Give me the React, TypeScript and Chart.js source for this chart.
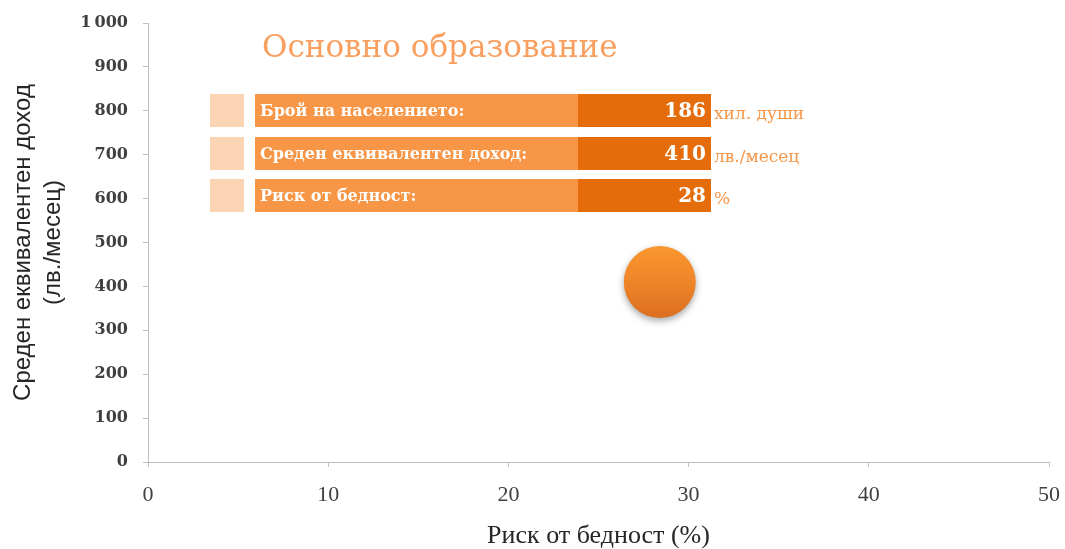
import React, { useEffect, useRef } from 'react';
import { Chart, registerables } from 'chart.js';

Chart.register(...registerables);

// ---- data ----
const riskValues = [28.4];
const incomeValues = [410];
const xTickMin = 0;
const xTickMax = 50;
const xTickStep = 10;
const yTickMin = 0;
const yTickMax = 1000;
const yTickStep = 100;
const chartTitle = 'Основно образование';
const xAxisTitle = 'Риск от бедност (%)';
const yAxisTitle = ['Среден еквивалентен доход', '(лв./месец)'];
const panelLabels = ['Брой на населението:', 'Среден еквивалентен доход:', 'Риск от бедност:'];
const panelValues = ['186', '410', '28'];
const panelUnits = ['хил. души', 'лв./месец', '%'];

const ORANGE_LIGHT = '#F79646';
const ORANGE_DARK = '#E46C0A';
const PEACH = '#FBD4B4';
const AXIS = '#BFBFBF';
const TEXT = '#404040';

const overlayPlugin = {
  id: 'overlay',
  afterDatasetsDraw(chart: any) {
    const { ctx, chartArea } = chart;
    const L = chartArea.left;
    const T = chartArea.top;
    ctx.save();
    // title
    ctx.fillStyle = '#F9A060';
    ctx.font = '31px "DejaVu Serif"';
    ctx.textAlign = 'left';
    ctx.textBaseline = 'middle';
    ctx.fillText(chartTitle, L + 114, T + 26);

    const rowTops = [71, 114, 156];
    const rowH = 33;
    panelLabels.forEach((label, i) => {
      const y = T + rowTops[i];
      ctx.fillStyle = PEACH;
      ctx.fillRect(L + 62, y, 34, rowH);
      ctx.fillStyle = ORANGE_LIGHT;
      ctx.fillRect(L + 107, y, 323, rowH);
      ctx.fillStyle = ORANGE_DARK;
      ctx.fillRect(L + 430, y, 133, rowH);
      ctx.fillStyle = '#FFFFFF';
      ctx.textBaseline = 'middle';
      ctx.textAlign = 'left';
      ctx.font = 'bold 16px "DejaVu Serif"';
      ctx.fillText(label, L + 112, y + rowH / 2 + 1);
      ctx.textAlign = 'right';
      ctx.font = 'bold 20px "DejaVu Serif"';
      ctx.fillText(panelValues[i], L + 558, y + rowH / 2 + 1);
      ctx.textAlign = 'left';
      ctx.fillStyle = ORANGE_LIGHT;
      ctx.font = '17px "DejaVu Serif"';
      ctx.fillText(panelUnits[i], L + 566, y + rowH / 2 + 4);
    });
    ctx.restore();
  },
};

const shadowPlugin = {
  id: 'bubbleShadow',
  beforeDatasetsDraw(chart: any) {
    const ctx = chart.ctx;
    ctx.save();
    ctx.shadowColor = 'rgba(0,0,0,0.35)';
    ctx.shadowBlur = 7;
    ctx.shadowOffsetY = 3;
  },
  afterDatasetsDraw(chart: any) {
    chart.ctx.restore();
  },
};

export default function App() {
  const ref = useRef<HTMLCanvasElement>(null);
  useEffect(() => {
    if (!ref.current) return;
    const radius = 36;
    const chart = new Chart(ref.current, {
      type: 'scatter',
      data: {
        datasets: [
          {
            data: riskValues.map((x, i) => ({ x, y: incomeValues[i] })),
            pointRadius: radius,
            pointHoverRadius: radius,
            borderWidth: 0,
            backgroundColor: (c: any) => {
              const ch = c.chart;
              if (!ch.chartArea || !ch.scales.y) return ORANGE_LIGHT;
              const cy = ch.scales.y.getPixelForValue(incomeValues[c.dataIndex] ?? 0);
              const g = ch.ctx.createLinearGradient(0, cy - radius, 0, cy + radius);
              g.addColorStop(0, '#FA962E');
              g.addColorStop(0.5, '#EF8529');
              g.addColorStop(1, '#DB6E20');
              return g;
            },
          },
        ],
      },
      options: {
        animation: false,
        responsive: false,
        layout: { autoPadding: false, padding: { left: 0, top: 23, right: 16, bottom: 0 } },
        plugins: {
          legend: { display: false },
          tooltip: { enabled: false },
        },
        scales: {
          x: {
            type: 'linear',
            min: xTickMin,
            max: xTickMax,
            afterFit: (s: any) => { s.height = 87; s.paddingRight = 0; s.paddingLeft = 0; },
            ticks: {
              stepSize: xTickStep,
              color: TEXT,
              padding: 15,
              font: { family: '"Liberation Serif"', size: 22 },
            },
            grid: { drawOnChartArea: false, drawTicks: true, tickLength: 5, color: AXIS },
            border: { color: AXIS },
            title: {
              display: true,
              text: xAxisTitle,
              color: '#262626',
              font: { family: '"Liberation Serif"', size: 26, lineHeight: 1 },
              padding: { top: 0, bottom: 0 },
            },
          },
          y: {
            type: 'linear',
            min: yTickMin,
            max: yTickMax,
            afterFit: (s: any) => { s.width = 148; s.paddingTop = 0; s.paddingBottom = 0; },
            ticks: {
              stepSize: yTickStep,
              color: TEXT,
              padding: 15,
              font: { family: '"DejaVu Serif"', size: 16, weight: 'bold' },
              callback: (v: any) => (v >= 1000 ? String(v).replace(/(\d)(\d{3})$/, '$1\u2009$2') : String(v)),
            },
            grid: { drawOnChartArea: false, drawTicks: true, tickLength: 5, color: AXIS },
            border: { color: AXIS },
            title: {
              display: true,
              text: yAxisTitle,
              color: '#262626',
              font: { family: '"Liberation Sans"', size: 24, lineHeight: 1.25 },
              padding: { top: 8, bottom: 0 },
            },
          },
        },
      },
      plugins: [shadowPlugin, overlayPlugin],
    } as any);
    return () => chart.destroy();
  }, []);
  return (
    <div style={{ position: 'absolute', left: 0, top: 0, width: 1065, height: 549, background: '#fff' }}>
      <canvas ref={ref} width={1065} height={549} style={{ display: 'block' }} />
    </div>
  );
}
